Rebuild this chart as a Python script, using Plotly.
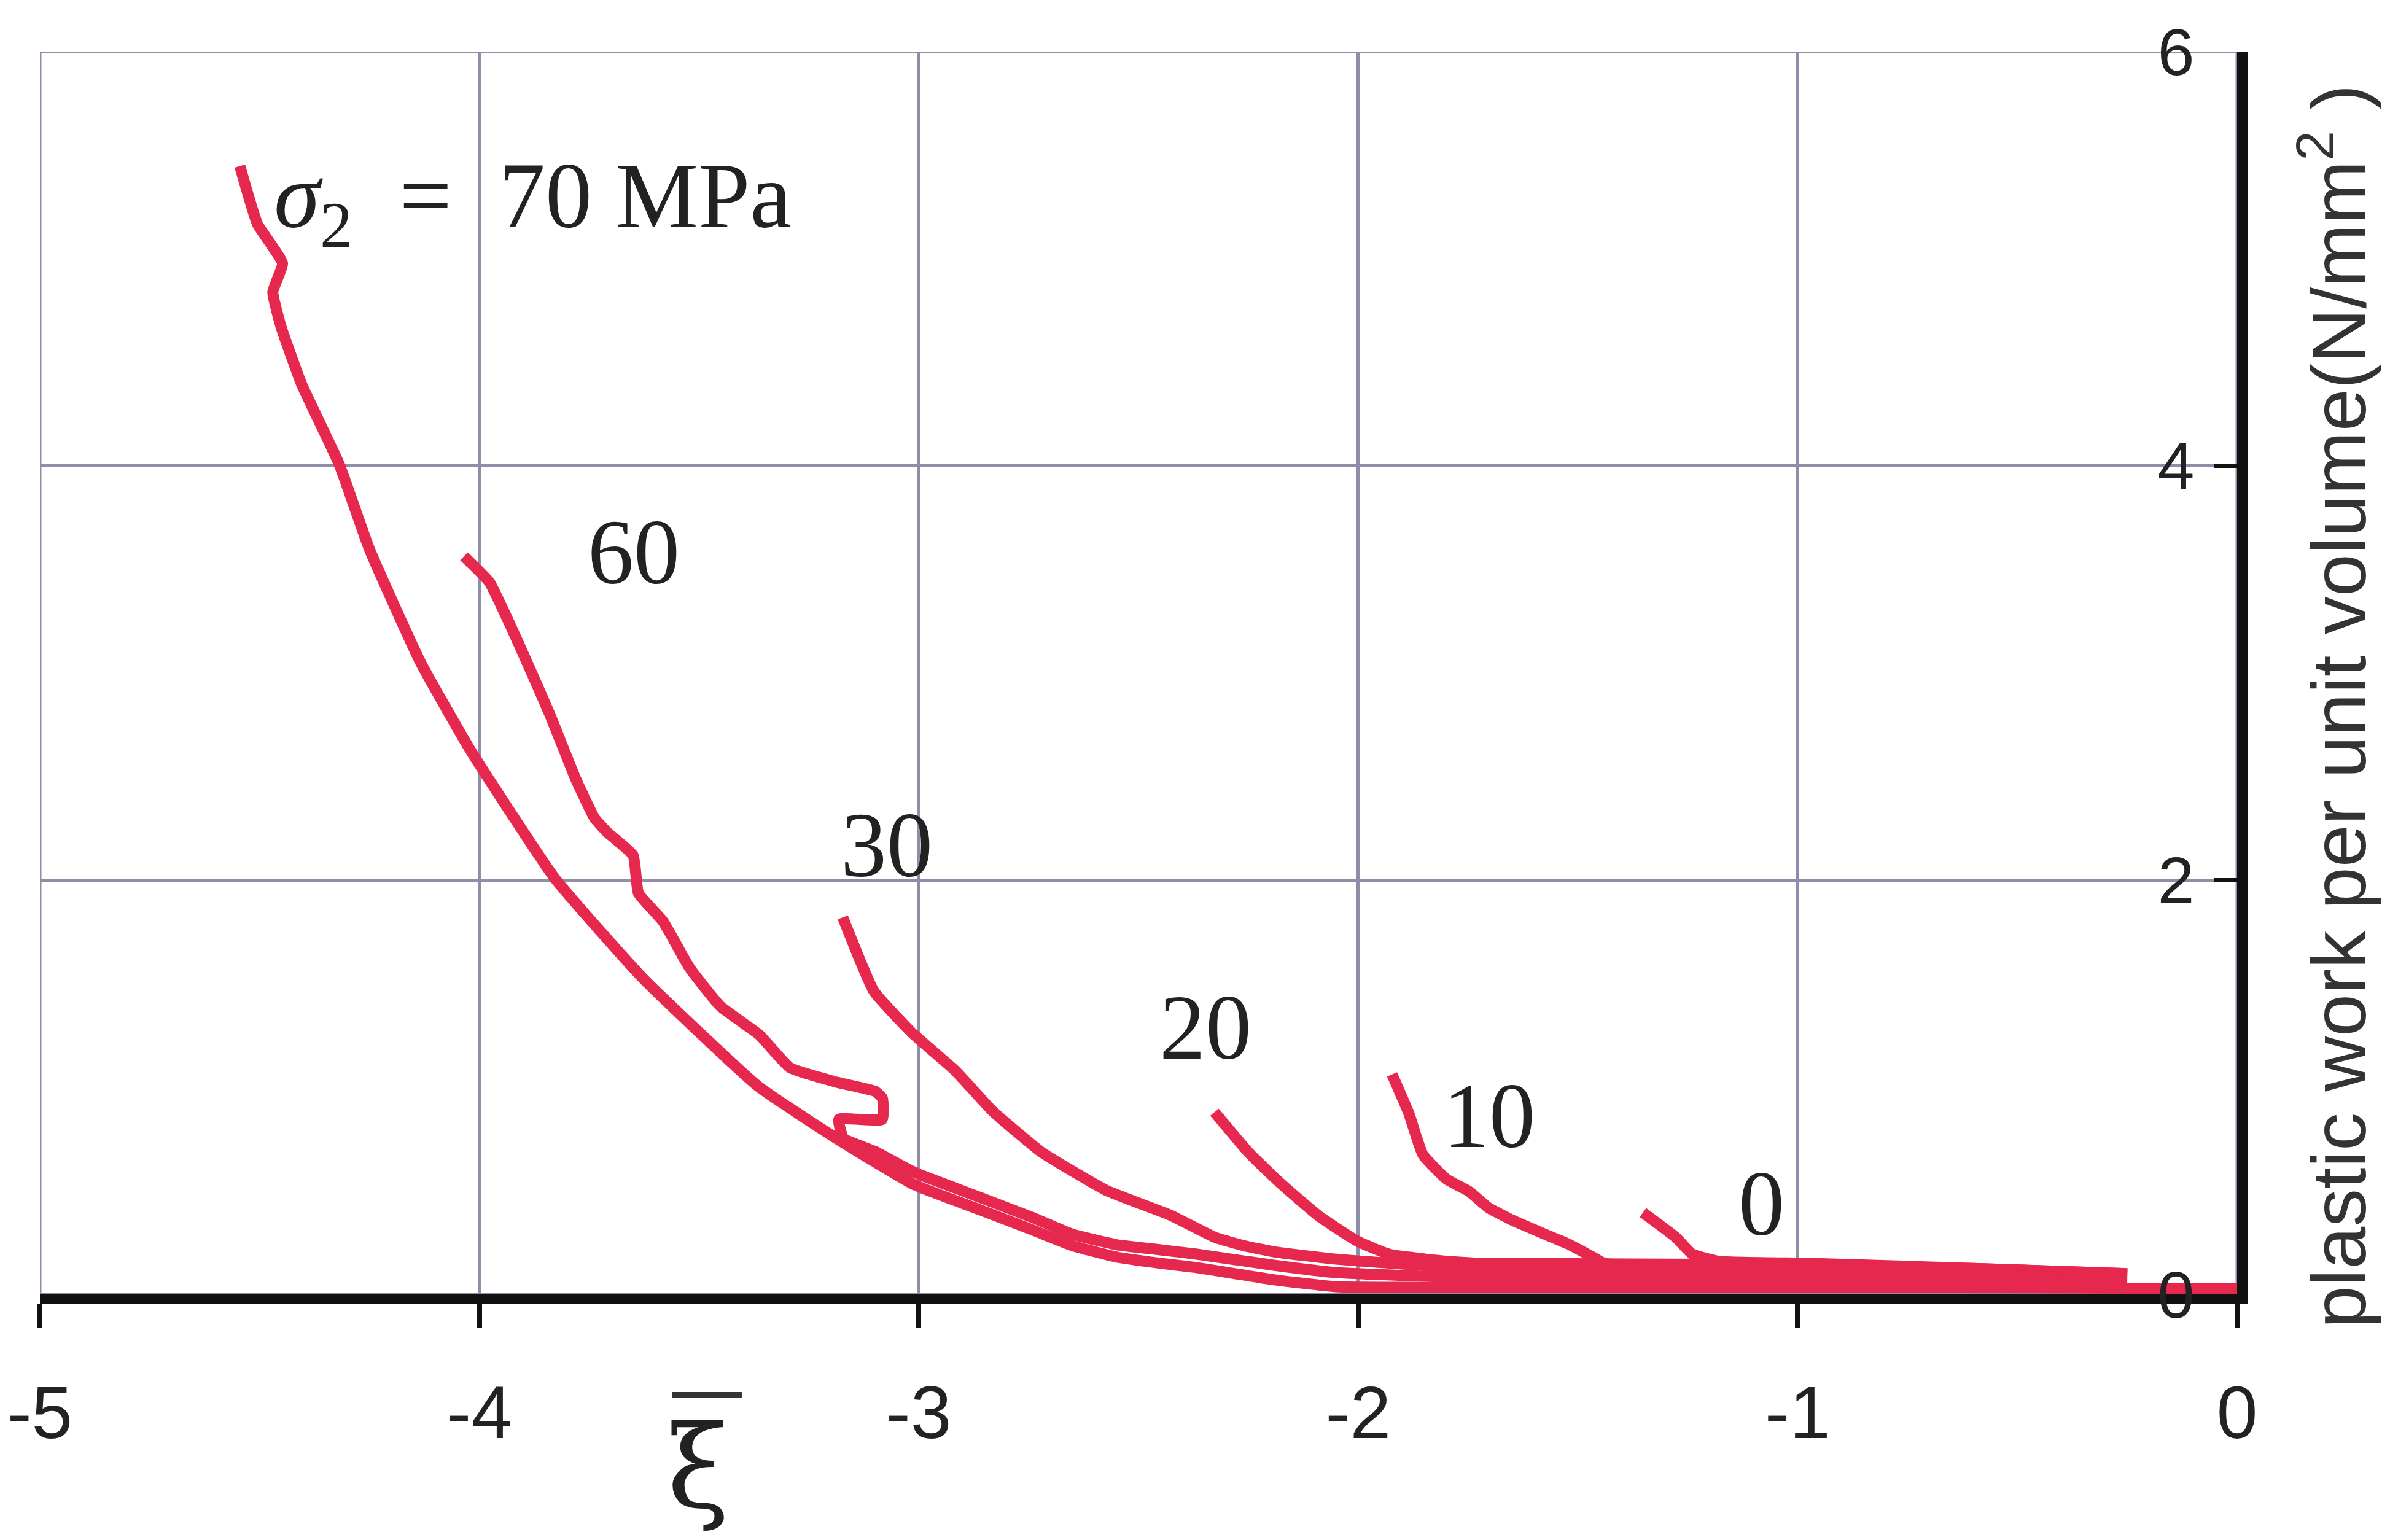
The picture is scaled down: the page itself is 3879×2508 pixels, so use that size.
import plotly.graph_objects as go

# ---- data ----
xi_70 = [-4.545, -4.505, -4.448, -4.470, -4.451, -4.405, -4.319, -4.25, -4.134, -4.02, -3.828, -3.629,
         -3.367, -3.189, -3.011, -2.863, -2.74, -2.65, -2.55, -2.45, -2.37, -2.28, -2.19, -2.05,
         -1.5, -1.0, -0.5, -0.25, 0.0]
w_70 = [5.447, 5.168, 4.978, 4.839, 4.67, 4.397, 4.008, 3.597, 3.052, 2.626, 2.008, 1.529,
        1.007, 0.755, 0.53, 0.41, 0.31, 0.235, 0.18, 0.15, 0.13, 0.10, 0.07, 0.037,
        0.035, 0.034, 0.032, 0.03, 0.028]

xi_60 = [-4.035, -3.977, -3.908, -3.840, -3.780, -3.738, -3.711, -3.650, -3.638, -3.582, -3.521,
         -3.451, -3.363, -3.293, -3.188, -3.099, -3.083, -3.083, -3.182, -3.171, -3.1, -3.011,
         -2.863, -2.74, -2.65, -2.55, -2.45, -2.37, -2.19, -2.05, -1.74, -1.0, -0.5, -0.25]
w_60 = [3.563, 3.438, 3.13, 2.802, 2.485, 2.30, 2.235, 2.119, 1.937, 1.801, 1.575,
        1.39, 1.253, 1.094, 1.025, 0.98, 0.948, 0.845, 0.845, 0.753, 0.69, 0.59,
        0.47, 0.37, 0.29, 0.24, 0.215, 0.195, 0.14, 0.105, 0.08, 0.075, 0.07, 0.068]

xi_30 = [-3.173, -3.102, -3.016, -2.918, -2.832, -2.721, -2.574, -2.426, -2.326, -2.26, -2.19,
         -2.05, -1.74, -1.2, -0.6, -0.25]
w_30 = [1.82, 1.463, 1.264, 1.082, 0.885, 0.687, 0.503, 0.381, 0.275, 0.235, 0.205,
        0.17, 0.125, 0.11, 0.10, 0.098]

xi_20 = [-2.327, -2.248, -2.174, -2.089, -2.002, -1.928, -1.8, -1.74, -1.2, -0.97, -0.6, -0.25]
w_20 = [0.88, 0.682, 0.531, 0.377, 0.257, 0.193, 0.16, 0.152, 0.145, 0.14, 0.125, 0.10]

xi_10 = [-1.923, -1.885, -1.853, -1.799, -1.747, -1.704, -1.651, -1.571, -1.518, -1.465, -1.44,
         -1.2, -0.8, -0.4, -0.25]
w_10 = [1.062, 0.875, 0.675, 0.556, 0.496, 0.419, 0.36, 0.287, 0.239, 0.179, 0.15,
        0.13, 0.12, 0.10, 0.09]

xi_0 = [-1.352, -1.277, -1.240, -1.18, -0.97, -0.6, -0.25]
w_0 = [0.395, 0.275, 0.195, 0.16, 0.15, 0.125, 0.10]

curve_names = ["70 MPa", "60 MPa", "30 MPa", "20 MPa", "10 MPa", "0 MPa"]
curve_x = [xi_70, xi_60, xi_30, xi_20, xi_10, xi_0]
curve_y = [w_70, w_60, w_30, w_20, w_10, w_0]

x_tick_vals = [-5, -4, -3, -2, -1, 0]
x_tick_text = ["-5", "-4", "-3", "-2", "-1", "0"]
y_tick_vals = [0, 2, 4, 6]
y_tick_text = ["0", "2", "4", "6"]

label_text = ["60", "30", "20", "10", "0"]
label_x = [-3.648, -3.073, -2.348, -1.702, -1.082]
label_y = [3.584, 2.169, 1.289, 0.864, 0.44]

# ---- styles ----
RED = "#E6284F"
GRID = "#8e8ea8"
W, H = 3879, 2508
L, R, T, B = 57, 3879 - 3643, 84, 2508 - 2108

fig = go.Figure()
for nm, xs, ys in zip(curve_names, curve_x, curve_y):
    fig.add_trace(go.Scatter(x=xs, y=ys, mode="lines", name=nm,
                             line=dict(color=RED, width=18, shape="spline", smoothing=0.4),
                             showlegend=False))

# frame (thin grid-coloured border on left/top)
fig.add_shape(type="rect", xref="x", yref="y", x0=-5, x1=0, y0=0, y1=6,
              line=dict(color=GRID, width=5), layer="below")

fig.update_xaxes(range=[-5, 0], tickvals=x_tick_vals, ticktext=x_tick_text,
                 showgrid=True, gridcolor=GRID, gridwidth=5, zeroline=False,
                 showline=True, linecolor="#111", linewidth=15,
                 ticks="outside", ticklen=40, tickwidth=8, tickcolor="#111",
                 ticklabelstandoff=35, ticklabeloverflow="allow",
                 tickfont=dict(family="Liberation Sans", size=120, color="#222"),
                 layer="below traces")
fig.update_yaxes(range=[0, 6], tickvals=y_tick_vals, ticktext=y_tick_text, side="right",
                 showgrid=True, gridcolor=GRID, gridwidth=5, zeroline=False,
                 showline=True, linecolor="#111", linewidth=17,
                 ticks="inside", ticklen=38, tickwidth=6, tickcolor="#111",
                 ticklabelposition="inside", ticklabelstandoff=50, ticklabeloverflow="allow",
                 tickfont=dict(family="Liberation Sans", size=108, color="#222"),
                 layer="above traces")

serif = dict(family="Liberation Serif", size=150, color="#222")
for t, x, y in zip(label_text, label_x, label_y):
    fig.add_annotation(x=x, y=y, xref="x", yref="y", text=t, showarrow=False,
                       xanchor="center", yanchor="middle", font=serif)

fig.add_annotation(x=-4.47, y=5.27, xref="x", yref="y",
                   text="<i>σ</i><sub>2</sub>\u2002=\u200270\u00a0MPa",
                   showarrow=False, xanchor="left", yanchor="middle",
                   font=dict(family="Liberation Serif", size=152, color="#222"))

# x-axis title: xi with bar
fig.add_annotation(x=0.2995, y=-0.1937, xref="paper", yref="paper", text="\u03be",
                   showarrow=False, xanchor="center", yanchor="bottom",
                   font=dict(family="DejaVu Serif", size=185, color="#222"))
fig.add_annotation(x=0.3035, y=-0.063, xref="paper", yref="paper", text="\u00af",
                   showarrow=False, xanchor="center", yanchor="top",
                   font=dict(family="Liberation Serif", size=220, color="#333"))

# y-axis title on the right
fig.add_annotation(x=1.0438, y=0.473, xref="paper", yref="paper",
                   text="plastic work per unit volume(N/mm<sup>2</sup> )",
                   textangle=-90, showarrow=False, xanchor="center", yanchor="middle",
                   font=dict(family="Liberation Sans", size=124, color="#333"))

fig.update_layout(width=W, height=H, margin=dict(l=L, r=R, t=T, b=B),
                  paper_bgcolor="white", plot_bgcolor="white")

fig.write_html("out.html")
